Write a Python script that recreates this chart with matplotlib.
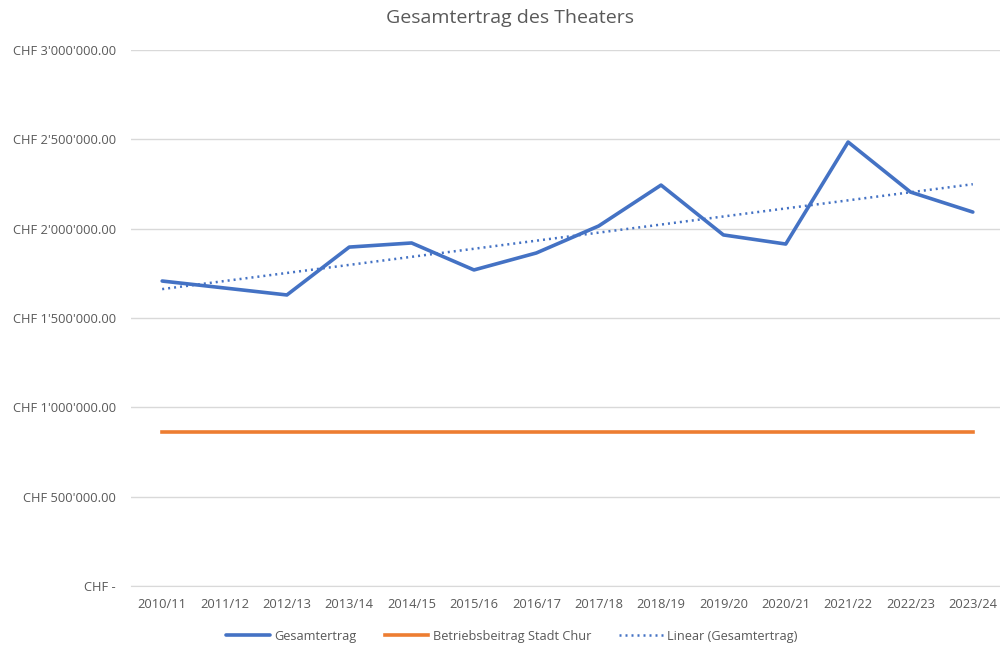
import numpy as np
import matplotlib.pyplot as plt
from matplotlib.ticker import FuncFormatter

# data
seasons = ["2010/11", "2011/12", "2012/13", "2013/14", "2014/15", "2015/16", "2016/17",
           "2017/18", "2018/19", "2019/20", "2020/21", "2021/22", "2022/23", "2023/24"]
gesamtertrag = [1707000, 1668000, 1629000, 1897000, 1920000, 1769000, 1864000,
                2015000, 2244000, 1965000, 1914000, 2485000, 2205000, 2093000]
betriebsbeitrag = [862000] * 14

plt.rcParams['font.family'] = ['Open Sans', 'DejaVu Sans']

x = np.arange(len(seasons))
# linear trend like Excel's trendline
k, d = np.polyfit(x, gesamtertrag, 1)
trend = k * x + d

def chf(v, pos):
    if v == 0:
        return "CHF -"
    return "CHF " + f"{v:,.2f}".replace(",", "'")

fig = plt.figure(figsize=(10, 6.48), dpi=100)
ax = fig.add_axes([0.131, 0.0957, 0.873, 0.8271])

ax.plot(x, gesamtertrag, color="#4472C4", lw=2.6, label="Gesamtertrag", solid_capstyle="round", zorder=3)
ax.plot(x, betriebsbeitrag, color="#ED7D31", lw=2.6, label="Betriebsbeitrag Stadt Chur", zorder=3)
ax.plot(x, trend, color="#4472C4", lw=1.8, ls=(0, (0.8, 1.6)), label="Linear (Gesamtertrag)", zorder=2)

ax.set_xlim(-0.5, len(seasons) - 0.5)
ax.set_ylim(0, 3000000)
ax.set_yticks(np.arange(0, 3000001, 500000))
ax.yaxis.set_major_formatter(FuncFormatter(chf))
ax.set_xticks(x)
ax.set_xticklabels(seasons)
ax.grid(axis="y", color="#D9D9D9", lw=1)
ax.set_axisbelow(True)
for s in ["top", "right", "left"]:
    ax.spines[s].set_visible(False)
ax.spines["bottom"].set_color("#D9D9D9")
ax.tick_params(length=0, colors="#595959", labelsize=9.3)
ax.tick_params(axis="x", pad=9)
ax.tick_params(axis="y", pad=11)

fig.suptitle("Gesamtertrag des Theaters", x=0.51, y=0.986, fontsize=14, color="#595959")

fig.legend(loc="center", bbox_to_anchor=(0.512, 0.0185), ncol=3, frameon=False,
           fontsize=9.2, labelcolor="#595959", handlelength=3.4, handletextpad=0.35,
           columnspacing=2.2)

fig.savefig("out.png", dpi=100)
